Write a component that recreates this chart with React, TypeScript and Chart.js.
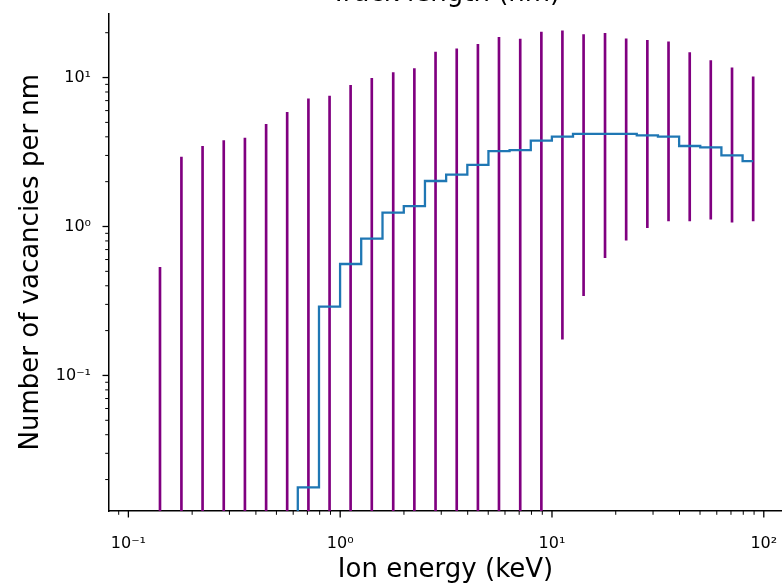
import { useEffect, useRef } from 'react';
import { Chart, registerables } from 'chart.js';

Chart.register(...registerables);

// Ion energy bin centres (keV)
const energyKeV = [
  0.141, 0.178, 0.224, 0.282, 0.355, 0.447, 0.562, 0.708, 0.891, 1.12,
  1.41, 1.78, 2.24, 2.82, 3.55, 4.47, 5.62, 7.08, 8.91, 11.2,
  14.1, 17.8, 22.4, 28.2, 35.5, 44.7, 56.2, 70.8, 89.1,
];

// Mean number of vacancies per nm in each bin (0 = none)
const meanVacancies = [
  0, 0, 0, 0, 0, 0, 0, 0.0177, 0.29, 0.56,
  0.83, 1.24, 1.37, 2.02, 2.23, 2.59, 3.21, 3.26, 3.77, 4.01,
  4.18, 4.18, 4.18, 4.09, 4.01, 3.47, 3.4, 3.0, 2.75,
];

// Lower end of the spread bar in each bin (0 = reaches zero)
const spreadLow = [
  0, 0, 0, 0, 0, 0, 0, 0, 0, 0,
  0, 0, 0, 0, 0, 0, 0, 0, 0, 0.175,
  0.343, 0.617, 0.811, 0.982, 1.09, 1.09, 1.12, 1.07, 1.09,
];

// Upper end of the spread bar in each bin
const spreadHigh = [
  0.531, 2.92, 3.45, 3.77, 3.93, 4.85, 5.84, 7.21, 7.51, 8.87,
  9.88, 10.8, 11.5, 14.8, 15.6, 16.7, 18.6, 18.1, 20.2, 20.6,
  19.4, 19.8, 18.2, 17.8, 17.4, 14.7, 13.0, 11.6, 10.1,
];

// Axis ranges
const xMin = 0.081;
const xMax = 121.9;
const yMin = 0.0123;
const yMax = 27.0;

// Labelled (decade) ticks
const xTickValues = [0.1, 1, 10, 100];
const xTickLabels = ['10⁻¹', '10⁰', '10¹', '10²'];
const yTickValues = [0.1, 1, 10];
const yTickLabels = ['10⁻¹', '10⁰', '10¹'];

const FONT = 'DejaVu Sans';
const INK = '#000000';

// A log axis cannot show zero: push such values well below the visible range
const logFloor = yMin / 100;
const clampLog = (v: number) => (v > 0 ? v : logFloor);

const isDecade = (v: number) => {
  const l = Math.log10(v);
  return Math.abs(l - Math.round(l)) < 1e-9;
};

const logTicks = (min: number, max: number) => {
  const out: { value: number }[] = [];
  for (let e = Math.floor(Math.log10(min)); e <= Math.ceil(Math.log10(max)); e++) {
    for (let m = 1; m < 10; m++) {
      const v = m * Math.pow(10, e);
      if (v >= min && v <= max) out.push({ value: v });
    }
  }
  return out;
};

const labelFor = (value: number, values: number[], labels: string[]) => {
  const i = values.findIndex((v) => Math.abs(Math.log10(v) - Math.log10(value)) < 1e-9);
  return i >= 0 ? labels[i] : '';
};

// Outward tick marks: long for decades, short for the in-between values
const tickMarks = {
  id: 'tickMarks',
  afterDraw(chart: any) {
    const { ctx, chartArea, scales } = chart;
    ctx.save();
    ctx.strokeStyle = INK;
    for (const t of scales.x.ticks) {
      const major = isDecade(t.value);
      const p = scales.x.getPixelForValue(t.value);
      ctx.lineWidth = major ? 1.3 : 1;
      ctx.beginPath();
      ctx.moveTo(p, chartArea.bottom);
      ctx.lineTo(p, chartArea.bottom + (major ? 6.5 : 3.8));
      ctx.stroke();
    }
    for (const t of scales.y.ticks) {
      const major = isDecade(t.value);
      const p = scales.y.getPixelForValue(t.value);
      ctx.lineWidth = major ? 1.3 : 1;
      ctx.beginPath();
      ctx.moveTo(chartArea.left, p);
      ctx.lineTo(chartArea.left - (major ? 6.5 : 3.8), p);
      ctx.stroke();
    }
    ctx.restore();
  },
};

export default function App() {
  const canvasRef = useRef<HTMLCanvasElement>(null);

  useEffect(() => {
    const canvas = canvasRef.current;
    if (!canvas) return;

    const chart = new Chart(canvas, {
      type: 'bar',
      data: {
        datasets: [
          {
            type: 'line',
            label: 'Mean vacancies per nm',
            data: energyKeV.map((x, i) => ({ x, y: clampLog(meanVacancies[i]) })),
            borderColor: '#1f77b4',
            backgroundColor: '#1f77b4',
            borderWidth: 2.3,
            stepped: 'middle',
            pointRadius: 0,
            fill: false,
            order: 0,
          } as any,
          {
            type: 'bar',
            label: 'Spread',
            data: energyKeV.map((x, i) => ({ x, y: [clampLog(spreadLow[i]), spreadHigh[i]] })),
            backgroundColor: '#800080',
            borderWidth: 0,
            barThickness: 2,
            order: 1,
          } as any,
        ],
      },
      options: {
        animation: false,
        responsive: false,
        devicePixelRatio: 1,
        events: [],
        layout: { padding: 0 },
        plugins: {
          legend: { display: false },
          tooltip: { enabled: false },
          title: {
            display: true,
            text: 'Track length (nm)',
            fullSize: false,
            color: INK,
            font: { family: FONT, size: 26, weight: 'normal' },
            padding: { top: 28.7, bottom: 3.4 },
          },
        },
        scales: {
          x: {
            type: 'logarithmic',
            position: 'bottom',
            min: xMin,
            max: xMax,
            offset: false,
            bounds: 'data',
            grid: { display: false },
            border: { display: true, color: INK, width: 1.5 },
            ticks: {
              autoSkip: false,
              maxRotation: 0,
              minRotation: 0,
              padding: 15,
              color: INK,
              font: { family: FONT, size: 16 },
              callback: (v: any) => labelFor(Number(v), xTickValues, xTickLabels),
            },
            title: {
              display: true,
              text: 'Ion energy (keV)',
              color: INK,
              font: { family: FONT, size: 26, weight: 'normal' },
              padding: { top: 0, bottom: 1.6 },
            },
            afterBuildTicks: (s: any) => {
              s.ticks = logTicks(xMin, xMax);
            },
            afterFit: (s: any) => {
              s.height = 76;
              s.paddingLeft = 0;
              s.paddingRight = 0;
            },
          } as any,
          y: {
            type: 'logarithmic',
            position: 'left',
            min: yMin,
            max: yMax,
            bounds: 'data',
            grid: { display: false },
            border: { display: true, color: INK, width: 1.5 },
            ticks: {
              autoSkip: false,
              padding: 10,
              color: INK,
              font: { family: FONT, size: 16 },
              callback: (v: any) => labelFor(Number(v), yTickValues, yTickLabels),
            },
            title: {
              display: true,
              text: 'Number of vacancies per nm',
              color: INK,
              font: { family: FONT, size: 26, weight: 'normal' },
              padding: { top: 15.2, bottom: 0 },
            },
            afterBuildTicks: (s: any) => {
              s.ticks = logTicks(yMin, yMax);
            },
            afterFit: (s: any) => {
              s.width = 109;
              s.paddingTop = 0;
              s.paddingBottom = 0;
            },
          } as any,
        },
      },
      plugins: [tickMarks],
    });

    return () => chart.destroy();
  }, []);

  return (
    <div
      style={{
        position: 'absolute',
        left: 0,
        top: 0,
        width: 782,
        height: 587,
        overflow: 'hidden',
        background: '#ffffff',
      }}
    >
      <canvas
        ref={canvasRef}
        width={782}
        height={637}
        style={{ position: 'absolute', left: 0, top: -50, display: 'block' }}
      />
    </div>
  );
}
